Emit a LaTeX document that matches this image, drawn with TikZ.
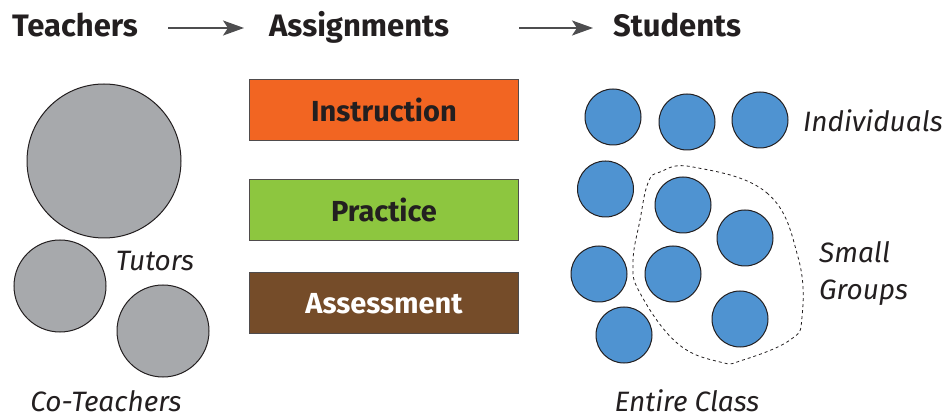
\documentclass[tikz,border=0pt]{standalone}
\usepackage{fontspec}
\setmainfont{Fira Sans}
\usetikzlibrary{arrows.meta}
\definecolor{txt}{HTML}{231F20}
\definecolor{arr}{HTML}{4D4D4F}
\definecolor{grayc}{HTML}{A7A9AC}
\definecolor{bluec}{HTML}{4F93D1}
\definecolor{orangec}{HTML}{F26522}
\definecolor{greenc}{HTML}{8DC63F}
\definecolor{brownc}{HTML}{754C29}
\tikzset{
  head/.style={font=\fontsize{31}{34}\selectfont\bfseries, text=txt, inner sep=0pt, anchor=base west},
  lab/.style={font=\fontsize{28}{32}\selectfont\itshape, text=txt, inner sep=0pt},
  flow/.style={draw=arr, line width=2pt, -{Stealth[length=21pt,width=15pt,inset=5pt]}},
  tcirc/.style={circle, draw=txt, line width=1pt, fill=grayc, inner sep=0pt},
  scirc/.style={circle, draw=txt, line width=1pt, fill=bluec, inner sep=0pt, minimum size=56pt},
  abox/.style={draw=txt!80, line width=1pt, minimum width=269pt, minimum height=61pt, inner sep=0pt,
    font=\fontsize{29}{32}\selectfont\bfseries},
}
\begin{document}
\begin{tikzpicture}[x=1pt,y=-1pt]
\useasboundingbox (0,0) rectangle (942,419);
\fill[white] (0,0) rectangle (942,419);
% headers
\node[head] (th) at (12,37) {Teachers};
\node[head] (ah) at (269,37) {Assignments};
\node[head] (sh) at (613,37) {Students};
\coordinate (a1s) at (168,28);
\coordinate (a1e) at (244,28);
\coordinate (a2s) at (519,28);
\coordinate (a2e) at (593,28);
\draw[flow] (a1s) -- (a1e);
\draw[flow] (a2s) -- (a2e);
% teachers
\node[tcirc, minimum size=154pt] (t1) at (104,161) {};
\node[tcirc, minimum size=92pt] (t2) at (60,286) {};
\node[tcirc, minimum size=92pt] (t3) at (163,331) {};
\node[lab] (tut) at (155,261) {Tutors};
\node[lab] (cot) at (106,401) {Co-Teachers};
% assignments
\node[abox, fill=orangec, text=txt] (ins) at (384,110) {Instruction};
\node[abox, fill=greenc, text=txt] (pra) at (384,210) {Practice};
\node[abox, fill=brownc, text=white] (ass) at (384,303.5) {Assessment};
% students
\draw[dashed, line width=0.8pt, txt] plot[smooth cycle, tension=0.7] coordinates {
 (693,167) (767,193) (798,257) (802,317) (790,340) (743,360) (720,362) (677,343)
 (640,293) (633,262) (640,220) (648,183) (660,172)};
\node[scirc] (s1) at (613,117) {};
\node[scirc] (s2) at (687,122) {};
\node[scirc] (s3) at (760,120) {};
\node[scirc] (s4) at (605.5,189) {};
\node[scirc] (s5) at (683,205) {};
\node[scirc] (s6) at (745,238) {};
\node[scirc] (s7) at (599,274) {};
\node[scirc] (s8) at (673,274) {};
\node[scirc] (s9) at (624,335) {};
\node[scirc] (s10) at (740,319) {};
\node[lab, anchor=west] (ind) at (803,121) {Individuals};
\node[lab, anchor=base west] (sm) at (819,263) {Small};
\node[lab, anchor=base west] (gr) at (819,300) {Groups};
\node[lab] (ec) at (687,401) {Entire Class};
\end{tikzpicture}
\end{document}
